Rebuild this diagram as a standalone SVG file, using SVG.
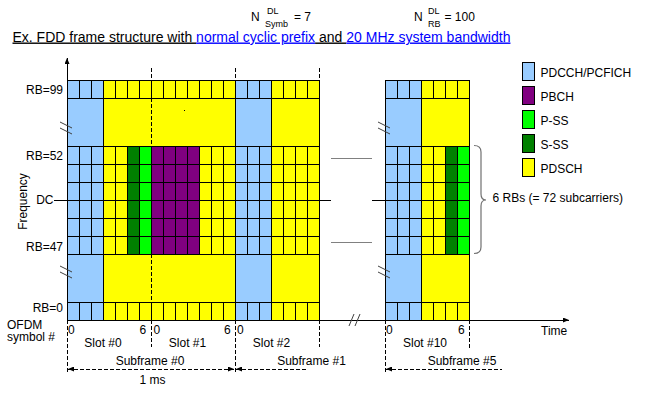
<svg xmlns="http://www.w3.org/2000/svg" width="647" height="393" viewBox="0 0 647 393">
<style>
text{font-family:"Liberation Sans",Arial,sans-serif;font-size:12px;fill:#000}
.sm{font-size:9px}
.ttl{font-size:14px}
.lnk{fill:#0000ff}
.mid{text-anchor:middle}
.end{text-anchor:end}
.bl{fill:#99ccff}.ye{fill:#ffff00}.pu{fill:#800080}.gr{fill:#00ff00}.dg{fill:#008000}
.grid{stroke:#000;stroke-width:1;fill:none;shape-rendering:crispEdges}
.dash{stroke:#000;stroke-width:1;stroke-dasharray:4 2;fill:none;shape-rendering:crispEdges}
.gray{stroke:#808080;stroke-width:1;fill:none;shape-rendering:crispEdges}
.brk{stroke:#404040;stroke-width:1;fill:none}
.lg{stroke:#000;stroke-width:1}
</style>
<defs>
<marker id="ah" markerWidth="6" markerHeight="5" refX="6" refY="2.5" orient="auto-start-reverse" markerUnits="userSpaceOnUse"><path d="M0,0L6,2.5L0,5z" fill="#000"/></marker>
</defs>
<rect width="647" height="393" fill="#fff"/>

<g id="header">
<text x="251" y="20.5">N</text>
<text class="sm" x="267" y="14">DL</text>
<text class="sm" x="265" y="26.5">Symb</text>
<text x="294" y="20.5">= 7</text>
<text x="414" y="20.5">N</text>
<text class="sm" x="428" y="14">DL</text>
<text class="sm" x="428" y="26.5">RB</text>
<text x="444.5" y="20.5">= 100</text>
<text class="ttl" x="12.5" y="41.5"><tspan text-decoration="underline">Ex. FDD frame structure with </tspan><tspan class="lnk" text-decoration="underline">normal cyclic prefix</tspan><tspan text-decoration="underline"> and </tspan><tspan class="lnk" text-decoration="underline">20 MHz system bandwidth</tspan></text>
</g>

<g id="grid-left">
<rect class="bl" x="67" y="80" width="36" height="240"/>
<rect class="ye" x="103" y="80" width="132" height="240"/>
<rect class="bl" x="235" y="80" width="36" height="240"/>
<rect class="ye" x="271" y="80" width="48" height="240"/>
<rect class="dg" x="127" y="146" width="12" height="108"/>
<rect class="gr" x="139" y="146" width="12" height="108"/>
<rect class="pu" x="151" y="146" width="48" height="108"/>
<path class="grid" d="M67 80V320M79 80V320M91 80V320M103 80V320M115 80V320M127 80V320M139 80V320M151 80V320M163 80V320M175 80V320M187 80V320M199 80V320M211 80V320M223 80V320M235 80V320M247 80V320M259 80V320M271 80V320M283 80V320M295 80V320M307 80V320M319 80V320"/>
<rect class="bl" x="67" y="98" width="36" height="48"/>
<rect class="ye" x="103" y="98" width="132" height="48"/>
<rect class="bl" x="235" y="98" width="36" height="48"/>
<rect class="ye" x="271" y="98" width="48" height="48"/>
<rect class="bl" x="67" y="254" width="36" height="48"/>
<rect class="ye" x="103" y="254" width="132" height="48"/>
<rect class="bl" x="235" y="254" width="36" height="48"/>
<rect class="ye" x="271" y="254" width="48" height="48"/>
<path class="grid" d="M67 98V146M103 98V146M235 98V146M271 98V146M319 98V146M67 254V302M103 254V302M235 254V302M271 254V302M319 254V302M67 80H319M67 98H319M67 146H319M67 164H319M67 182H319M67 200H319M67 218H319M67 236H319M67 254H319M67 302H319"/>
<path class="dash" d="M151 98V146M151 254V302"/>
<rect x="184" y="110" width="1" height="1" fill="#000"/>
</g>

<g id="grid-right">
<rect class="bl" x="385" y="80" width="36" height="240"/>
<rect class="ye" x="421" y="80" width="48" height="240"/>
<rect class="dg" x="445" y="146" width="12" height="108"/>
<rect class="gr" x="457" y="146" width="12" height="108"/>
<path class="grid" d="M385 80V320M397 80V320M409 80V320M421 80V320M433 80V320M445 80V320M457 80V320M469 80V320"/>
<rect class="bl" x="385" y="98" width="36" height="48"/>
<rect class="ye" x="421" y="98" width="48" height="48"/>
<rect class="bl" x="385" y="254" width="36" height="48"/>
<rect class="ye" x="421" y="254" width="48" height="48"/>
<path class="grid" d="M385 98V146M421 98V146M469 98V146M385 254V302M421 254V302M469 254V302M385 80H469M385 98H469M385 146H469M385 164H469M385 182H469M385 200H469M385 218H469M385 236H469M385 254H469M385 302H469"/>
</g>

<g id="connectors">
<path class="grid" d="M67 320V58" marker-end="url(#ah)"/>
<path class="grid" d="M67 320H569" marker-end="url(#ah)"/>
<path class="grid" d="M54 200H67M319 200H331M372 200H385"/>
<path class="gray" d="M331 158H372M331 242H372"/>
<path class="dash" d="M151 68V80M235 68V80M319 68V80"/>
<path class="dash" d="M67 320V373M151 320V347M235 320V373M319 320V347M385 320V373M469 320V350"/>
<path class="dash" d="M68 369H234" marker-start="url(#ah)" marker-end="url(#ah)"/>
<path class="dash" d="M236 369H307" marker-start="url(#ah)"/>
<path class="dash" d="M386 369H502" marker-start="url(#ah)"/>
<path class="brk" d="M60 122L72 128M60 128L72 134M60 266L72 272M60 272L72 278M378 122L390 128M378 128L390 134M378 266L390 272M378 272L390 278M349 326L354 314M355 326L360 314"/>
<path d="M474 145.5Q481 145.5 481 152L481 194Q481 200 486 200Q481 200 481 206L481 247Q481 253.5 474 253.5" fill="none" stroke="#707070" stroke-width="1.2"/>
</g>

<g id="labels">
<text class="end" x="63" y="94.3">RB=99</text>
<text class="end" x="63" y="160.3">RB=52</text>
<text class="end" x="53.5" y="203.5">DC</text>
<text class="end" x="63" y="251.3">RB=47</text>
<text class="end" x="63" y="311.5">RB=0</text>
<text class="mid" transform="translate(26.5,201.5) rotate(-90)">Frequency</text>
<text x="7" y="328.5">OFDM</text>
<text x="7" y="341">symbol #</text>
<text x="68" y="334">0</text>
<text x="139.5" y="334">6</text>
<text x="153.5" y="334">0</text>
<text x="224" y="334">6</text>
<text x="237" y="334">0</text>
<text x="386" y="334">0</text>
<text x="458" y="334">6</text>
<text x="541" y="335">Time</text>
<text class="mid" x="103" y="347.3">Slot #0</text>
<text class="mid" x="187.5" y="347.3">Slot #1</text>
<text class="mid" x="271.5" y="347.3">Slot #2</text>
<text class="mid" x="425" y="347.3">Slot #10</text>
<text class="mid" x="150" y="365.3">Subframe #0</text>
<text class="mid" x="311.5" y="365.3">Subframe #1</text>
<text class="mid" x="462" y="365.3">Subframe #5</text>
<text class="mid" x="152.5" y="384">1 ms</text>
<text x="492.5" y="202">6 RBs (= 72 subcarriers)</text>
</g>

<g id="legend">
<rect class="bl lg" x="522.5" y="62.5" width="12" height="18"/>
<text x="540.5" y="76.5">PDCCH/PCFICH</text>
<rect class="pu lg" x="522.5" y="86.5" width="12" height="18"/>
<text x="540.5" y="100.5">PBCH</text>
<rect class="gr lg" x="522.5" y="110.5" width="12" height="18"/>
<text x="540.5" y="124.5">P-SS</text>
<rect class="dg lg" x="522.5" y="134.5" width="12" height="18"/>
<text x="540.5" y="148.5">S-SS</text>
<rect class="ye lg" x="522.5" y="158.5" width="12" height="18"/>
<text x="540.5" y="172.5">PDSCH</text>
</g>
</svg>
